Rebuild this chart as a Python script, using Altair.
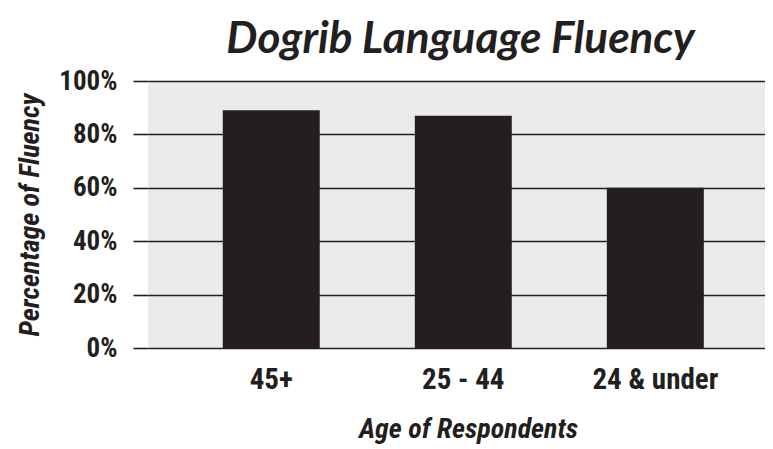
import altair as alt
import pandas as pd

categories = ["45+", "25 - 44", "24 & under"]
fluency = [89, 87, 60]
y_ticks = [0, 20, 40, 60, 80, 100]

df = pd.DataFrame({"age": categories, "fluency": fluency})

LABEL_FONT = "Roboto Condensed, Liberation Sans Narrow, DejaVu Sans Condensed, sans-serif"
INK = "#231f20"

chart = alt.Chart(df).mark_bar(color=INK).encode(
    x=alt.X(
        "age:N",
        sort=categories,
        scale=alt.Scale(paddingInner=0.495, paddingOuter=0.354, align=0.55, round=False),
        axis=alt.Axis(
            title="Age of Respondents",
            labelAngle=0,
            ticks=False,
            domain=False,
            labelFont=LABEL_FONT,
            labelFontSize=29,
            labelFontWeight="bold",
            labelColor=INK,
            labelPadding=17,
            titleFont=LABEL_FONT,
            titleFontSize=28,
            titleFontWeight="bold",
            titleFontStyle="italic",
            titleColor=INK,
            titlePadding=21,
            titleX=320,
        ),
    ),
    y=alt.Y(
        "fluency:Q",
        scale=alt.Scale(domain=[0, 100], nice=False),
        axis=alt.Axis(
            title="Percentage of Fluency",
            values=y_ticks,
            labelExpr="datum.value + '%'",
            domain=False,
            ticks=True,
            tickSize=15,
            tickColor=INK,
            tickWidth=1.6,
            grid=True,
            gridColor=INK,
            gridWidth=1.6,
            labelFont=LABEL_FONT,
            labelFontSize=27,
            labelFontWeight="bold",
            labelColor=INK,
            labelPadding=16,
            titleFont=LABEL_FONT,
            titleFontSize=28,
            titleFontWeight="bold",
            titleFontStyle="italic",
            titleColor=INK,
            titlePadding=14,
        ),
    ),
).properties(
    width=617,
    height=267,
    autosize=alt.AutoSizeParams(type="none"),
    padding={"left": 140, "top": 73, "right": 0, "bottom": 100},
    title=alt.TitleParams(
        "Dogrib Language Fluency",
        font="Lato, Open Sans, sans-serif",
        fontSize=44,
        fontWeight="bold",
        fontStyle="italic",
        color=INK,
        anchor="middle",
        offset=5,
        dx=4,
    ),
).configure_view(
    fill="#ebebed",
    stroke=None,
)

chart.save("out.html", embed_options={"renderer": "svg", "actions": False})
